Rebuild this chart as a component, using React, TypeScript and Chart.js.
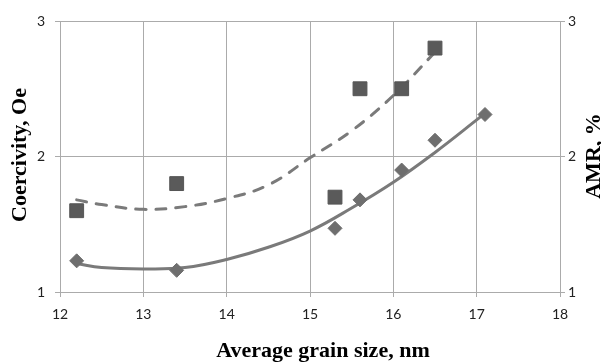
import React, { useEffect, useRef } from 'react';
import { Chart, registerables } from 'chart.js';

Chart.register(...registerables);

// Measured data
const coercivityX = [12.2, 13.4, 15.3, 15.6, 16.1, 16.5];
const coercivityY = [1.6, 1.8, 1.7, 2.5, 2.5, 2.8];
const amrX = [12.2, 13.4, 15.3, 15.6, 16.1, 16.5, 17.1];
const amrY = [1.23, 1.16, 1.47, 1.68, 1.9, 2.12, 2.31];

// Trend lines
const coercivityTrendX = [12.2, 12.5, 13, 13.5, 14, 14.5, 15, 15.5, 16, 16.5];
const coercivityTrendY = [1.68, 1.645, 1.61, 1.63, 1.69, 1.79, 1.99, 2.19, 2.45, 2.77];
const amrTrendX = [12.2, 12.5, 13, 13.5, 14, 14.5, 15, 15.5, 16, 16.5, 17, 17.1];
const amrTrendY = [1.21, 1.18, 1.17, 1.18, 1.24, 1.33, 1.45, 1.62, 1.81, 2.03, 2.27, 2.32];

// Axes
const xMin = 12;
const xMax = 18;
const yMin = 1;
const yMax = 3;
const xTitle = 'Average grain size, nm';
const yLeftTitle = 'Coercivity, Oe';
const yRightTitle = 'AMR, %';

const GRID = '#ababab';
const LINE = '#7a7a7a';
const MARK_SQ = '#5a5a5a';
const MARK_DI = '#6e6e6e';

const toPts = (xs: number[], ys: number[]) => xs.map((x, i) => ({ x, y: ys[i] }));

const titlesPlugin = {
  id: 'titles',
  afterDraw(chart: any) {
    const ctx = chart.ctx;
    ctx.save();
    ctx.fillStyle = '#000';
    ctx.font = 'bold 22px "Liberation Serif"';
    ctx.textAlign = 'center';
    ctx.textBaseline = 'alphabetic';
    ctx.fillText(xTitle, 323, 357);
    ctx.save();
    ctx.translate(25.5, 155);
    ctx.rotate(-Math.PI / 2);
    ctx.fillText(yLeftTitle, 0, 0);
    ctx.restore();
    ctx.save();
    ctx.translate(600, 156);
    ctx.rotate(-Math.PI / 2);
    ctx.fillText(yRightTitle, 0, 0);
    ctx.restore();
    ctx.restore();
  },
};

export default function App() {
  const ref = useRef<HTMLCanvasElement | null>(null);
  useEffect(() => {
    if (!ref.current) return;
    const tickFont = { family: 'Lato', size: 14 };
    const chart = new Chart(ref.current, {
      type: 'scatter',
      data: {
        datasets: [
          {
            label: 'Coercivity',
            data: toPts(coercivityX, coercivityY),
            pointStyle: 'rect',
            pointRadius: 9.8,
            backgroundColor: MARK_SQ,
            borderColor: '#555',
            borderWidth: 1,
            yAxisID: 'y',
            order: 1,
          },
          {
            label: 'AMR',
            data: toPts(amrX, amrY),
            pointStyle: 'rectRot',
            pointRadius: 7,
            backgroundColor: MARK_DI,
            borderColor: MARK_DI,
            borderWidth: 1,
            yAxisID: 'y2',
            order: 1,
          },
          {
            label: 'Coercivity trend',
            data: toPts(coercivityTrendX, coercivityTrendY),
            showLine: true,
            pointRadius: 0,
            borderColor: LINE,
            borderWidth: 3,
            borderDash: [10, 10],
            borderCapStyle: 'round',
            tension: 0.4,
            yAxisID: 'y',
            order: 2,
          } as any,
          {
            label: 'AMR trend',
            data: toPts(amrTrendX, amrTrendY),
            showLine: true,
            pointRadius: 0,
            borderColor: LINE,
            borderWidth: 3,
            borderCapStyle: 'round',
            tension: 0.4,
            yAxisID: 'y2',
            order: 2,
          } as any,
        ],
      },
      options: {
        animation: false,
        responsive: true,
        maintainAspectRatio: false,
        layout: { padding: { top: 21, left: 0, right: 0, bottom: 0 } },
        plugins: { legend: { display: false }, tooltip: { enabled: false } },
        scales: {
          x: {
            type: 'linear',
            min: xMin,
            max: xMax,
            afterFit: (s: any) => { s.height = 70; },
            ticks: { stepSize: 1, color: '#222', font: tickFont, padding: 9, maxRotation: 0 },
            grid: { color: GRID, tickLength: 5, lineWidth: 1 },
            border: { color: GRID },
          },
          y: {
            type: 'linear',
            position: 'left',
            min: yMin,
            max: yMax,
            afterFit: (s: any) => { s.width = 60; },
            ticks: { stepSize: 1, color: '#222', font: tickFont, padding: 10 },
            grid: { color: GRID, tickLength: 5, lineWidth: 1 },
            border: { color: GRID },
          },
          y2: {
            type: 'linear',
            position: 'right',
            min: yMin,
            max: yMax,
            afterFit: (s: any) => { s.width = 41; },
            ticks: { stepSize: 1, color: '#222', font: tickFont, padding: 3 },
            grid: { color: GRID, tickLength: 5, drawOnChartArea: false },
            border: { color: GRID },
          },
        },
      } as any,
      plugins: [titlesPlugin],
    });
    return () => chart.destroy();
  }, []);
  return (
    <div style={{ position: 'absolute', left: 0, top: 0, width: 601, height: 362, background: '#fff' }}>
      <canvas ref={ref} />
    </div>
  );
}
